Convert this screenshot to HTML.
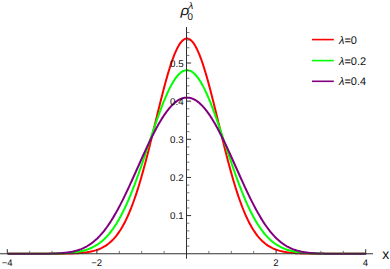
<!DOCTYPE html><html><head><meta charset="utf-8"><style>html,body{margin:0;padding:0;background:#fff;width:390px;height:269px;overflow:hidden}</style></head><body><svg width="390" height="269" viewBox="0 0 390 269" style="position:absolute;left:0;top:0;text-rendering:geometricPrecision">
<polyline points="7.70,253.75 8.60,253.75 9.49,253.75 10.39,253.75 11.28,253.75 12.18,253.75 13.08,253.75 13.97,253.75 14.87,253.75 15.76,253.75 16.66,253.75 17.56,253.75 18.45,253.75 19.35,253.75 20.24,253.75 21.14,253.75 22.04,253.75 22.93,253.75 23.83,253.75 24.72,253.75 25.62,253.75 26.52,253.75 27.41,253.75 28.31,253.75 29.20,253.75 30.10,253.75 31.00,253.75 31.89,253.75 32.79,253.75 33.68,253.75 34.58,253.75 35.48,253.75 36.37,253.75 37.27,253.75 38.16,253.75 39.06,253.75 39.96,253.75 40.85,253.74 41.75,253.74 42.64,253.74 43.54,253.74 44.44,253.74 45.33,253.74 46.23,253.74 47.12,253.74 48.02,253.74 48.92,253.73 49.81,253.73 50.71,253.73 51.60,253.73 52.50,253.72 53.40,253.72 54.29,253.72 55.19,253.71 56.08,253.71 56.98,253.70 57.88,253.70 58.77,253.69 59.67,253.68 60.56,253.67 61.46,253.67 62.36,253.66 63.25,253.64 64.15,253.63 65.04,253.62 65.94,253.60 66.84,253.59 67.73,253.57 68.63,253.55 69.52,253.53 70.42,253.50 71.32,253.47 72.21,253.44 73.11,253.41 74.00,253.37 74.90,253.33 75.80,253.29 76.69,253.24 77.59,253.19 78.48,253.13 79.38,253.07 80.28,253.00 81.17,252.93 82.07,252.85 82.96,252.76 83.86,252.66 84.76,252.56 85.65,252.45 86.55,252.33 87.44,252.19 88.34,252.05 89.24,251.89 90.13,251.72 91.03,251.54 91.92,251.35 92.82,251.13 93.72,250.91 94.61,250.66 95.51,250.40 96.40,250.11 97.30,249.81 98.20,249.48 99.09,249.13 99.99,248.76 100.88,248.36 101.78,247.93 102.68,247.47 103.57,246.98 104.47,246.46 105.36,245.91 106.26,245.32 107.16,244.69 108.05,244.03 108.95,243.33 109.84,242.58 110.74,241.79 111.64,240.95 112.53,240.07 113.43,239.13 114.32,238.15 115.22,237.11 116.12,236.02 117.01,234.87 117.91,233.66 118.80,232.39 119.70,231.06 120.60,229.67 121.49,228.21 122.39,226.69 123.28,225.09 124.18,223.43 125.08,221.70 125.97,219.89 126.87,218.01 127.76,216.06 128.66,214.03 129.56,211.93 130.45,209.75 131.35,207.50 132.24,205.16 133.14,202.75 134.04,200.27 134.93,197.70 135.83,195.07 136.72,192.35 137.62,189.57 138.52,186.70 139.41,183.77 140.31,180.77 141.20,177.70 142.10,174.57 143.00,171.37 143.89,168.11 144.79,164.79 145.68,161.42 146.58,158.00 147.48,154.53 148.37,151.01 149.27,147.46 150.16,143.87 151.06,140.25 151.96,136.61 152.85,132.95 153.75,129.27 154.64,125.58 155.54,121.89 156.44,118.20 157.33,114.51 158.23,110.85 159.12,107.20 160.02,103.58 160.92,99.99 161.81,96.45 162.71,92.95 163.60,89.50 164.50,86.12 165.40,82.80 166.29,79.56 167.19,76.39 168.08,73.32 168.98,70.33 169.88,67.45 170.77,64.67 171.67,62.01 172.56,59.46 173.46,57.03 174.36,54.74 175.25,52.58 176.15,50.56 177.04,48.68 177.94,46.95 178.84,45.37 179.73,43.95 180.63,42.69 181.52,41.58 182.42,40.65 183.32,39.88 184.21,39.28 185.11,38.85 186.00,38.59 186.90,38.51 187.80,38.59 188.69,38.85 189.59,39.28 190.48,39.88 191.38,40.65 192.28,41.58 193.17,42.69 194.07,43.95 194.96,45.37 195.86,46.95 196.76,48.68 197.65,50.56 198.55,52.58 199.44,54.74 200.34,57.03 201.24,59.46 202.13,62.01 203.03,64.67 203.92,67.45 204.82,70.33 205.72,73.32 206.61,76.39 207.51,79.56 208.40,82.80 209.30,86.12 210.20,89.50 211.09,92.95 211.99,96.45 212.88,99.99 213.78,103.58 214.68,107.20 215.57,110.85 216.47,114.51 217.36,118.20 218.26,121.89 219.16,125.58 220.05,129.27 220.95,132.95 221.84,136.61 222.74,140.25 223.64,143.87 224.53,147.46 225.43,151.01 226.32,154.53 227.22,158.00 228.12,161.42 229.01,164.79 229.91,168.11 230.80,171.37 231.70,174.57 232.60,177.70 233.49,180.77 234.39,183.77 235.28,186.70 236.18,189.57 237.08,192.35 237.97,195.07 238.87,197.70 239.76,200.27 240.66,202.75 241.56,205.16 242.45,207.50 243.35,209.75 244.24,211.93 245.14,214.03 246.04,216.06 246.93,218.01 247.83,219.89 248.72,221.70 249.62,223.43 250.52,225.09 251.41,226.69 252.31,228.21 253.20,229.67 254.10,231.06 255.00,232.39 255.89,233.66 256.79,234.87 257.68,236.02 258.58,237.11 259.48,238.15 260.37,239.13 261.27,240.07 262.16,240.95 263.06,241.79 263.96,242.58 264.85,243.33 265.75,244.03 266.64,244.69 267.54,245.32 268.44,245.91 269.33,246.46 270.23,246.98 271.12,247.47 272.02,247.93 272.92,248.36 273.81,248.76 274.71,249.13 275.60,249.48 276.50,249.81 277.40,250.11 278.29,250.40 279.19,250.66 280.08,250.91 280.98,251.13 281.88,251.35 282.77,251.54 283.67,251.72 284.56,251.89 285.46,252.05 286.36,252.19 287.25,252.33 288.15,252.45 289.04,252.56 289.94,252.66 290.84,252.76 291.73,252.85 292.63,252.93 293.52,253.00 294.42,253.07 295.32,253.13 296.21,253.19 297.11,253.24 298.00,253.29 298.90,253.33 299.80,253.37 300.69,253.41 301.59,253.44 302.48,253.47 303.38,253.50 304.28,253.53 305.17,253.55 306.07,253.57 306.96,253.59 307.86,253.60 308.76,253.62 309.65,253.63 310.55,253.64 311.44,253.66 312.34,253.67 313.24,253.67 314.13,253.68 315.03,253.69 315.92,253.70 316.82,253.70 317.72,253.71 318.61,253.71 319.51,253.72 320.40,253.72 321.30,253.72 322.20,253.73 323.09,253.73 323.99,253.73 324.88,253.73 325.78,253.74 326.68,253.74 327.57,253.74 328.47,253.74 329.36,253.74 330.26,253.74 331.16,253.74 332.05,253.74 332.95,253.74 333.84,253.75 334.74,253.75 335.64,253.75 336.53,253.75 337.43,253.75 338.32,253.75 339.22,253.75 340.12,253.75 341.01,253.75 341.91,253.75 342.80,253.75 343.70,253.75 344.60,253.75 345.49,253.75 346.39,253.75 347.28,253.75 348.18,253.75 349.08,253.75 349.97,253.75 350.87,253.75 351.76,253.75 352.66,253.75 353.56,253.75 354.45,253.75 355.35,253.75 356.24,253.75 357.14,253.75 358.04,253.75 358.93,253.75 359.83,253.75 360.72,253.75 361.62,253.75 362.52,253.75 363.41,253.75 364.31,253.75 365.20,253.75 366.10,253.75" fill="none" stroke="#ff0000" stroke-width="2" stroke-linejoin="round"/>
<polyline points="7.70,253.75 8.60,253.75 9.49,253.75 10.39,253.75 11.28,253.75 12.18,253.75 13.08,253.75 13.97,253.75 14.87,253.75 15.76,253.75 16.66,253.75 17.56,253.75 18.45,253.75 19.35,253.75 20.24,253.75 21.14,253.75 22.04,253.75 22.93,253.75 23.83,253.75 24.72,253.75 25.62,253.75 26.52,253.75 27.41,253.75 28.31,253.75 29.20,253.75 30.10,253.74 31.00,253.74 31.89,253.74 32.79,253.74 33.68,253.74 34.58,253.74 35.48,253.74 36.37,253.74 37.27,253.73 38.16,253.73 39.06,253.73 39.96,253.73 40.85,253.72 41.75,253.72 42.64,253.72 43.54,253.71 44.44,253.71 45.33,253.70 46.23,253.70 47.12,253.69 48.02,253.68 48.92,253.67 49.81,253.66 50.71,253.65 51.60,253.64 52.50,253.63 53.40,253.61 54.29,253.60 55.19,253.58 56.08,253.56 56.98,253.54 57.88,253.52 58.77,253.49 59.67,253.46 60.56,253.43 61.46,253.40 62.36,253.36 63.25,253.32 64.15,253.28 65.04,253.23 65.94,253.18 66.84,253.12 67.73,253.06 68.63,252.99 69.52,252.92 70.42,252.84 71.32,252.75 72.21,252.66 73.11,252.56 74.00,252.45 74.90,252.33 75.80,252.21 76.69,252.07 77.59,251.92 78.48,251.77 79.38,251.60 80.28,251.42 81.17,251.23 82.07,251.02 82.96,250.80 83.86,250.56 84.76,250.31 85.65,250.04 86.55,249.75 87.44,249.45 88.34,249.12 89.24,248.78 90.13,248.41 91.03,248.03 91.92,247.61 92.82,247.18 93.72,246.72 94.61,246.23 95.51,245.72 96.40,245.18 97.30,244.61 98.20,244.01 99.09,243.38 99.99,242.72 100.88,242.02 101.78,241.29 102.68,240.52 103.57,239.72 104.47,238.88 105.36,238.00 106.26,237.08 107.16,236.13 108.05,235.13 108.95,234.09 109.84,233.00 110.74,231.88 111.64,230.71 112.53,229.49 113.43,228.23 114.32,226.92 115.22,225.57 116.12,224.17 117.01,222.72 117.91,221.22 118.80,219.67 119.70,218.08 120.60,216.44 121.49,214.74 122.39,213.00 123.28,211.21 124.18,209.38 125.08,207.49 125.97,205.56 126.87,203.58 127.76,201.55 128.66,199.48 129.56,197.36 130.45,195.20 131.35,193.00 132.24,190.75 133.14,188.47 134.04,186.14 134.93,183.78 135.83,181.38 136.72,178.94 137.62,176.48 138.52,173.98 139.41,171.45 140.31,168.90 141.20,166.32 142.10,163.72 143.00,161.10 143.89,158.46 144.79,155.81 145.68,153.14 146.58,150.47 147.48,147.79 148.37,145.11 149.27,142.42 150.16,139.74 151.06,137.06 151.96,134.39 152.85,131.73 153.75,129.09 154.64,126.47 155.54,123.87 156.44,121.29 157.33,118.74 158.23,116.22 159.12,113.74 160.02,111.30 160.92,108.89 161.81,106.54 162.71,104.23 163.60,101.97 164.50,99.76 165.40,97.62 166.29,95.53 167.19,93.51 168.08,91.56 168.98,89.68 169.88,87.86 170.77,86.13 171.67,84.47 172.56,82.89 173.46,81.40 174.36,79.99 175.25,78.67 176.15,77.43 177.04,76.29 177.94,75.24 178.84,74.29 179.73,73.43 180.63,72.67 181.52,72.01 182.42,71.45 183.32,70.99 184.21,70.63 185.11,70.38 186.00,70.22 186.90,70.17 187.80,70.22 188.69,70.38 189.59,70.63 190.48,70.99 191.38,71.45 192.28,72.01 193.17,72.67 194.07,73.43 194.96,74.29 195.86,75.24 196.76,76.29 197.65,77.43 198.55,78.67 199.44,79.99 200.34,81.40 201.24,82.89 202.13,84.47 203.03,86.13 203.92,87.86 204.82,89.68 205.72,91.56 206.61,93.51 207.51,95.53 208.40,97.62 209.30,99.76 210.20,101.97 211.09,104.23 211.99,106.54 212.88,108.89 213.78,111.30 214.68,113.74 215.57,116.22 216.47,118.74 217.36,121.29 218.26,123.87 219.16,126.47 220.05,129.09 220.95,131.73 221.84,134.39 222.74,137.06 223.64,139.74 224.53,142.42 225.43,145.11 226.32,147.79 227.22,150.47 228.12,153.14 229.01,155.81 229.91,158.46 230.80,161.10 231.70,163.72 232.60,166.32 233.49,168.90 234.39,171.45 235.28,173.98 236.18,176.48 237.08,178.94 237.97,181.38 238.87,183.78 239.76,186.14 240.66,188.47 241.56,190.75 242.45,193.00 243.35,195.20 244.24,197.36 245.14,199.48 246.04,201.55 246.93,203.58 247.83,205.56 248.72,207.49 249.62,209.38 250.52,211.21 251.41,213.00 252.31,214.74 253.20,216.44 254.10,218.08 255.00,219.67 255.89,221.22 256.79,222.72 257.68,224.17 258.58,225.57 259.48,226.92 260.37,228.23 261.27,229.49 262.16,230.71 263.06,231.88 263.96,233.00 264.85,234.09 265.75,235.13 266.64,236.13 267.54,237.08 268.44,238.00 269.33,238.88 270.23,239.72 271.12,240.52 272.02,241.29 272.92,242.02 273.81,242.72 274.71,243.38 275.60,244.01 276.50,244.61 277.40,245.18 278.29,245.72 279.19,246.23 280.08,246.72 280.98,247.18 281.88,247.61 282.77,248.03 283.67,248.41 284.56,248.78 285.46,249.12 286.36,249.45 287.25,249.75 288.15,250.04 289.04,250.31 289.94,250.56 290.84,250.80 291.73,251.02 292.63,251.23 293.52,251.42 294.42,251.60 295.32,251.77 296.21,251.92 297.11,252.07 298.00,252.21 298.90,252.33 299.80,252.45 300.69,252.56 301.59,252.66 302.48,252.75 303.38,252.84 304.28,252.92 305.17,252.99 306.07,253.06 306.96,253.12 307.86,253.18 308.76,253.23 309.65,253.28 310.55,253.32 311.44,253.36 312.34,253.40 313.24,253.43 314.13,253.46 315.03,253.49 315.92,253.52 316.82,253.54 317.72,253.56 318.61,253.58 319.51,253.60 320.40,253.61 321.30,253.63 322.20,253.64 323.09,253.65 323.99,253.66 324.88,253.67 325.78,253.68 326.68,253.69 327.57,253.70 328.47,253.70 329.36,253.71 330.26,253.71 331.16,253.72 332.05,253.72 332.95,253.72 333.84,253.73 334.74,253.73 335.64,253.73 336.53,253.73 337.43,253.74 338.32,253.74 339.22,253.74 340.12,253.74 341.01,253.74 341.91,253.74 342.80,253.74 343.70,253.74 344.60,253.75 345.49,253.75 346.39,253.75 347.28,253.75 348.18,253.75 349.08,253.75 349.97,253.75 350.87,253.75 351.76,253.75 352.66,253.75 353.56,253.75 354.45,253.75 355.35,253.75 356.24,253.75 357.14,253.75 358.04,253.75 358.93,253.75 359.83,253.75 360.72,253.75 361.62,253.75 362.52,253.75 363.41,253.75 364.31,253.75 365.20,253.75 366.10,253.75" fill="none" stroke="#00ff00" stroke-width="2" stroke-linejoin="round"/>
<polyline points="7.70,253.75 8.60,253.75 9.49,253.75 10.39,253.75 11.28,253.75 12.18,253.75 13.08,253.75 13.97,253.75 14.87,253.75 15.76,253.75 16.66,253.75 17.56,253.75 18.45,253.75 19.35,253.75 20.24,253.75 21.14,253.75 22.04,253.75 22.93,253.75 23.83,253.75 24.72,253.75 25.62,253.75 26.52,253.75 27.41,253.75 28.31,253.75 29.20,253.75 30.10,253.74 31.00,253.74 31.89,253.74 32.79,253.74 33.68,253.74 34.58,253.74 35.48,253.74 36.37,253.73 37.27,253.73 38.16,253.73 39.06,253.72 39.96,253.72 40.85,253.71 41.75,253.71 42.64,253.70 43.54,253.69 44.44,253.69 45.33,253.68 46.23,253.67 47.12,253.65 48.02,253.64 48.92,253.63 49.81,253.61 50.71,253.59 51.60,253.57 52.50,253.54 53.40,253.52 54.29,253.49 55.19,253.45 56.08,253.42 56.98,253.38 57.88,253.33 58.77,253.28 59.67,253.23 60.56,253.17 61.46,253.11 62.36,253.03 63.25,252.96 64.15,252.87 65.04,252.78 65.94,252.68 66.84,252.57 67.73,252.45 68.63,252.32 69.52,252.18 70.42,252.03 71.32,251.86 72.21,251.69 73.11,251.50 74.00,251.29 74.90,251.07 75.80,250.84 76.69,250.59 77.59,250.32 78.48,250.03 79.38,249.73 80.28,249.40 81.17,249.06 82.07,248.69 82.96,248.30 83.86,247.89 84.76,247.46 85.65,246.99 86.55,246.51 87.44,246.00 88.34,245.46 89.24,244.89 90.13,244.29 91.03,243.67 91.92,243.01 92.82,242.33 93.72,241.61 94.61,240.86 95.51,240.08 96.40,239.27 97.30,238.42 98.20,237.53 99.09,236.62 99.99,235.67 100.88,234.68 101.78,233.66 102.68,232.60 103.57,231.51 104.47,230.38 105.36,229.21 106.26,228.01 107.16,226.77 108.05,225.50 108.95,224.19 109.84,222.85 110.74,221.47 111.64,220.06 112.53,218.61 113.43,217.13 114.32,215.62 115.22,214.07 116.12,212.49 117.01,210.88 117.91,209.24 118.80,207.57 119.70,205.87 120.60,204.15 121.49,202.40 122.39,200.62 123.28,198.82 124.18,196.99 125.08,195.15 125.97,193.28 126.87,191.39 127.76,189.49 128.66,187.56 129.56,185.63 130.45,183.68 131.35,181.71 132.24,179.74 133.14,177.75 134.04,175.76 134.93,173.76 135.83,171.76 136.72,169.75 137.62,167.74 138.52,165.73 139.41,163.73 140.31,161.73 141.20,159.73 142.10,157.74 143.00,155.75 143.89,153.78 144.79,151.82 145.68,149.87 146.58,147.93 147.48,146.01 148.37,144.11 149.27,142.23 150.16,140.37 151.06,138.54 151.96,136.72 152.85,134.94 153.75,133.18 154.64,131.44 155.54,129.74 156.44,128.07 157.33,126.43 158.23,124.83 159.12,123.26 160.02,121.73 160.92,120.24 161.81,118.78 162.71,117.37 163.60,115.99 164.50,114.66 165.40,113.38 166.29,112.13 167.19,110.94 168.08,109.79 168.98,108.68 169.88,107.63 170.77,106.62 171.67,105.66 172.56,104.76 173.46,103.91 174.36,103.10 175.25,102.35 176.15,101.66 177.04,101.01 177.94,100.43 178.84,99.89 179.73,99.41 180.63,98.99 181.52,98.62 182.42,98.31 183.32,98.06 184.21,97.86 185.11,97.72 186.00,97.63 186.90,97.60 187.80,97.63 188.69,97.72 189.59,97.86 190.48,98.06 191.38,98.31 192.28,98.62 193.17,98.99 194.07,99.41 194.96,99.89 195.86,100.43 196.76,101.01 197.65,101.66 198.55,102.35 199.44,103.10 200.34,103.91 201.24,104.76 202.13,105.66 203.03,106.62 203.92,107.63 204.82,108.68 205.72,109.79 206.61,110.94 207.51,112.13 208.40,113.38 209.30,114.66 210.20,115.99 211.09,117.37 211.99,118.78 212.88,120.24 213.78,121.73 214.68,123.26 215.57,124.83 216.47,126.43 217.36,128.07 218.26,129.74 219.16,131.44 220.05,133.18 220.95,134.94 221.84,136.72 222.74,138.54 223.64,140.37 224.53,142.23 225.43,144.11 226.32,146.01 227.22,147.93 228.12,149.87 229.01,151.82 229.91,153.78 230.80,155.75 231.70,157.74 232.60,159.73 233.49,161.73 234.39,163.73 235.28,165.73 236.18,167.74 237.08,169.75 237.97,171.76 238.87,173.76 239.76,175.76 240.66,177.75 241.56,179.74 242.45,181.71 243.35,183.68 244.24,185.63 245.14,187.56 246.04,189.49 246.93,191.39 247.83,193.28 248.72,195.15 249.62,196.99 250.52,198.82 251.41,200.62 252.31,202.40 253.20,204.15 254.10,205.87 255.00,207.57 255.89,209.24 256.79,210.88 257.68,212.49 258.58,214.07 259.48,215.62 260.37,217.13 261.27,218.61 262.16,220.06 263.06,221.47 263.96,222.85 264.85,224.19 265.75,225.50 266.64,226.77 267.54,228.01 268.44,229.21 269.33,230.38 270.23,231.51 271.12,232.60 272.02,233.66 272.92,234.68 273.81,235.67 274.71,236.62 275.60,237.53 276.50,238.42 277.40,239.27 278.29,240.08 279.19,240.86 280.08,241.61 280.98,242.33 281.88,243.01 282.77,243.67 283.67,244.29 284.56,244.89 285.46,245.46 286.36,246.00 287.25,246.51 288.15,246.99 289.04,247.46 289.94,247.89 290.84,248.30 291.73,248.69 292.63,249.06 293.52,249.40 294.42,249.73 295.32,250.03 296.21,250.32 297.11,250.59 298.00,250.84 298.90,251.07 299.80,251.29 300.69,251.50 301.59,251.69 302.48,251.86 303.38,252.03 304.28,252.18 305.17,252.32 306.07,252.45 306.96,252.57 307.86,252.68 308.76,252.78 309.65,252.87 310.55,252.96 311.44,253.03 312.34,253.11 313.24,253.17 314.13,253.23 315.03,253.28 315.92,253.33 316.82,253.38 317.72,253.42 318.61,253.45 319.51,253.49 320.40,253.52 321.30,253.54 322.20,253.57 323.09,253.59 323.99,253.61 324.88,253.63 325.78,253.64 326.68,253.65 327.57,253.67 328.47,253.68 329.36,253.69 330.26,253.69 331.16,253.70 332.05,253.71 332.95,253.71 333.84,253.72 334.74,253.72 335.64,253.73 336.53,253.73 337.43,253.73 338.32,253.74 339.22,253.74 340.12,253.74 341.01,253.74 341.91,253.74 342.80,253.74 343.70,253.74 344.60,253.75 345.49,253.75 346.39,253.75 347.28,253.75 348.18,253.75 349.08,253.75 349.97,253.75 350.87,253.75 351.76,253.75 352.66,253.75 353.56,253.75 354.45,253.75 355.35,253.75 356.24,253.75 357.14,253.75 358.04,253.75 358.93,253.75 359.83,253.75 360.72,253.75 361.62,253.75 362.52,253.75 363.41,253.75 364.31,253.75 365.20,253.75 366.10,253.75" fill="none" stroke="#800080" stroke-width="2" stroke-linejoin="round"/>
<g stroke="#303030" stroke-width="1" fill="none">
<line x1="0" y1="253.75" x2="373" y2="253.75"/>
<line x1="186.50" y1="27" x2="186.50" y2="258.75"/>
<line x1="7.30" y1="253.75" x2="7.30" y2="249.15"/>
<line x1="29.70" y1="253.75" x2="29.70" y2="250.85" stroke="#555" stroke-width="0.8"/>
<line x1="52.10" y1="253.75" x2="52.10" y2="250.85" stroke="#555" stroke-width="0.8"/>
<line x1="74.50" y1="253.75" x2="74.50" y2="250.85" stroke="#555" stroke-width="0.8"/>
<line x1="96.90" y1="253.75" x2="96.90" y2="249.15"/>
<line x1="119.30" y1="253.75" x2="119.30" y2="250.85" stroke="#555" stroke-width="0.8"/>
<line x1="141.70" y1="253.75" x2="141.70" y2="250.85" stroke="#555" stroke-width="0.8"/>
<line x1="164.10" y1="253.75" x2="164.10" y2="250.85" stroke="#555" stroke-width="0.8"/>
<line x1="208.90" y1="253.75" x2="208.90" y2="250.85" stroke="#555" stroke-width="0.8"/>
<line x1="231.30" y1="253.75" x2="231.30" y2="250.85" stroke="#555" stroke-width="0.8"/>
<line x1="253.70" y1="253.75" x2="253.70" y2="250.85" stroke="#555" stroke-width="0.8"/>
<line x1="276.10" y1="253.75" x2="276.10" y2="249.15"/>
<line x1="298.50" y1="253.75" x2="298.50" y2="250.85" stroke="#555" stroke-width="0.8"/>
<line x1="320.90" y1="253.75" x2="320.90" y2="250.85" stroke="#555" stroke-width="0.8"/>
<line x1="343.30" y1="253.75" x2="343.30" y2="250.85" stroke="#555" stroke-width="0.8"/>
<line x1="365.70" y1="253.75" x2="365.70" y2="249.15"/>
<line x1="186.50" y1="246.12" x2="189.40" y2="246.12" stroke="#555" stroke-width="0.8"/>
<line x1="186.50" y1="238.49" x2="189.40" y2="238.49" stroke="#555" stroke-width="0.8"/>
<line x1="186.50" y1="230.86" x2="189.40" y2="230.86" stroke="#555" stroke-width="0.8"/>
<line x1="186.50" y1="223.23" x2="189.40" y2="223.23" stroke="#555" stroke-width="0.8"/>
<line x1="186.50" y1="215.60" x2="191.10" y2="215.60"/>
<line x1="186.50" y1="207.97" x2="189.40" y2="207.97" stroke="#555" stroke-width="0.8"/>
<line x1="186.50" y1="200.34" x2="189.40" y2="200.34" stroke="#555" stroke-width="0.8"/>
<line x1="186.50" y1="192.71" x2="189.40" y2="192.71" stroke="#555" stroke-width="0.8"/>
<line x1="186.50" y1="185.08" x2="189.40" y2="185.08" stroke="#555" stroke-width="0.8"/>
<line x1="186.50" y1="177.45" x2="191.10" y2="177.45"/>
<line x1="186.50" y1="169.82" x2="189.40" y2="169.82" stroke="#555" stroke-width="0.8"/>
<line x1="186.50" y1="162.19" x2="189.40" y2="162.19" stroke="#555" stroke-width="0.8"/>
<line x1="186.50" y1="154.56" x2="189.40" y2="154.56" stroke="#555" stroke-width="0.8"/>
<line x1="186.50" y1="146.93" x2="189.40" y2="146.93" stroke="#555" stroke-width="0.8"/>
<line x1="186.50" y1="139.30" x2="191.10" y2="139.30"/>
<line x1="186.50" y1="131.67" x2="189.40" y2="131.67" stroke="#555" stroke-width="0.8"/>
<line x1="186.50" y1="124.04" x2="189.40" y2="124.04" stroke="#555" stroke-width="0.8"/>
<line x1="186.50" y1="116.41" x2="189.40" y2="116.41" stroke="#555" stroke-width="0.8"/>
<line x1="186.50" y1="108.78" x2="189.40" y2="108.78" stroke="#555" stroke-width="0.8"/>
<line x1="186.50" y1="101.15" x2="191.10" y2="101.15"/>
<line x1="186.50" y1="93.52" x2="189.40" y2="93.52" stroke="#555" stroke-width="0.8"/>
<line x1="186.50" y1="85.89" x2="189.40" y2="85.89" stroke="#555" stroke-width="0.8"/>
<line x1="186.50" y1="78.26" x2="189.40" y2="78.26" stroke="#555" stroke-width="0.8"/>
<line x1="186.50" y1="70.63" x2="189.40" y2="70.63" stroke="#555" stroke-width="0.8"/>
<line x1="186.50" y1="63.00" x2="191.10" y2="63.00"/>
<line x1="186.50" y1="55.37" x2="189.40" y2="55.37" stroke="#555" stroke-width="0.8"/>
<line x1="186.50" y1="47.74" x2="189.40" y2="47.74" stroke="#555" stroke-width="0.8"/>
<line x1="186.50" y1="40.11" x2="189.40" y2="40.11" stroke="#555" stroke-width="0.8"/>
<line x1="186.50" y1="32.48" x2="189.40" y2="32.48" stroke="#555" stroke-width="0.8"/>
</g>
<line x1="312" y1="39.6" x2="333.8" y2="39.6" stroke="#ff0000" stroke-width="1.6"/>
<line x1="312" y1="60.6" x2="333.8" y2="60.6" stroke="#00ff00" stroke-width="1.6"/>
<line x1="312" y1="81.3" x2="333.8" y2="81.3" stroke="#800080" stroke-width="1.6"/>
<g font-family="Liberation Sans, sans-serif" font-size="9" fill="#111">
<text x="7.10" y="266.2" text-anchor="middle" font-size="9.5">−4</text>
<text x="96.70" y="266.2" text-anchor="middle" font-size="9.5">−2</text>
<text x="275.90" y="266.2" text-anchor="middle" font-size="9.5">2</text>
<text x="365.50" y="266.2" text-anchor="middle" font-size="9.5">4</text>
<text x="183.6" y="219.40" text-anchor="end" font-size="9.8">0.1</text>
<text x="183.6" y="181.25" text-anchor="end" font-size="9.8">0.2</text>
<text x="183.6" y="143.10" text-anchor="end" font-size="9.8">0.3</text>
<text x="183.6" y="104.95" text-anchor="end" font-size="9.8">0.4</text>
<text x="183.6" y="66.80" text-anchor="end" font-size="9.8">0.5</text>
<text x="339" y="43.7" font-size="11"><tspan font-style="italic">λ</tspan>=0</text>
<text x="339" y="64.7" font-size="11"><tspan font-style="italic">λ</tspan>=0.2</text>
<text x="339" y="85.4" font-size="11"><tspan font-style="italic">λ</tspan>=0.4</text>
</g>
<g font-family="Liberation Sans, sans-serif" fill="#111">
<text x="382.3" y="258.6" font-size="14">x</text>
<text transform="translate(180.5,15.1) scale(1.12,0.98)" font-size="13.6" font-style="italic">ρ</text>
<text transform="translate(187.4,19.9) scale(1,1)" font-size="9.8">0</text>
<text transform="translate(188.3,9.1) scale(1.1,1)" font-size="9.4" font-style="italic">λ</text>
</g>
</svg></body></html>
